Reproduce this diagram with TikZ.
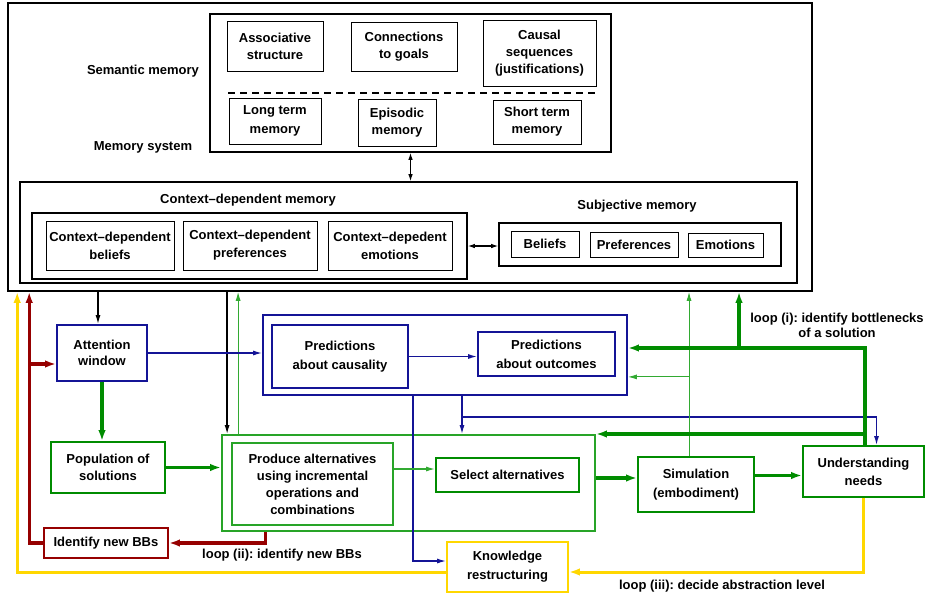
\documentclass[tikz,border=0pt]{standalone}
\usepackage{fontspec}
\setmainfont{Liberation Sans}
\usetikzlibrary{arrows.meta}
\definecolor{nblue}{RGB}{20,20,150}
\definecolor{ngreen}{RGB}{0,140,0}
\definecolor{lgreen}{RGB}{50,170,50}
\definecolor{dred}{RGB}{150,0,0}
\definecolor{yel}{RGB}{255,215,0}
\frenchspacing
\begin{document}
\begin{tikzpicture}[x=1pt,y=-1pt,
  font=\bfseries\fontsize{13}{17}\selectfont,
  box/.style={draw, line width=1pt, inner sep=0pt, align=center},
  big/.style={draw, line width=1.6pt, inner sep=0pt},
  bbox/.style={draw=nblue, line width=1.8pt, inner sep=0pt, align=center},
  gbox/.style={draw=ngreen, line width=1.8pt, inner sep=0pt, align=center},
  rbox/.style={draw=dred, line width=1.8pt, inner sep=0pt, align=center},
  ybox/.style={draw=yel, line width=1.8pt, inner sep=0pt, align=center},
  tip/.style={-{Latex[length=9pt,width=5pt]}},
  bigtip/.style={-{Latex[length=11pt,width=7.5pt]}},
  dbl/.style={{Latex[length=7pt,width=4.5pt]}-{Latex[length=7pt,width=4.5pt]}, line width=1.1pt},
  blk/.style={tip, line width=1.3pt},
  bl/.style={tip, draw=nblue, line width=1.3pt},
  gthin/.style={tip, draw=lgreen, line width=1pt},
  gthick/.style={bigtip, draw=ngreen, line width=3.5pt},
  gmed/.style={tip, draw=ngreen, line width=1.3pt},
  rthick/.style={bigtip, draw=dred, line width=3.2pt},
  ythick/.style={bigtip, draw=yel, line width=3pt},
  lab/.style={align=center}
]
\useasboundingbox (0,0) rectangle (925,600);

% ---------- memory system ----------
\node[big, minimum width=804pt, minimum height=288pt] (mem) at (410,147) {};
\node[big, minimum width=401pt, minimum height=138pt] (sem) at (410.5,83) {};
\node[box, minimum width=96pt, minimum height=50pt] (assoc) at (275,46) {Associative\\structure};
\node[box, minimum width=106pt, minimum height=49pt] (conn) at (404,46.5) {Connections\\to goals};
\node[box, minimum width=113pt, minimum height=66pt] (causal) at (539.5,53) {Causal\\sequences\\(justifications)};
\draw[dashed, dash pattern=on 7pt off 5pt, line width=1.2pt] (228,93) -- (595,93);
\node[box, minimum width=92pt, minimum height=46pt, font=\bfseries\fontsize{13}{19}\selectfont] (ltm) at (275,121) {Long term\\memory};
\node[box, minimum width=78pt, minimum height=47pt] (epi) at (397,122.5) {Episodic\\memory};
\node[box, minimum width=88pt, minimum height=44pt] (stm) at (537,122) {Short term\\memory};
\node[lab] (semlab) at (143,71) {Semantic memory};
\node[lab] (memlab) at (143,147) {Memory system};

\node[big, minimum width=777pt, minimum height=101pt] (ctx) at (408.5,232.5) {};
\node[lab] (ctxlab) at (248,200) {Context–dependent memory};
\node[lab] (subjlab) at (637,206) {Subjective memory};
\node[big, minimum width=435pt, minimum height=66pt] (cdin) at (249.5,246) {};
\node[box, minimum width=128pt, minimum height=49pt, font=\bfseries\fontsize{13}{18}\selectfont] (cdb) at (110,245.5) {Context–dependent\\beliefs};
\node[box, minimum width=134pt, minimum height=49pt, font=\bfseries\fontsize{13}{18}\selectfont] (cdp) at (250,245.5) {Context–dependent\\preferences};
\node[box, minimum width=124pt, minimum height=49pt, font=\bfseries\fontsize{13}{18}\selectfont] (cde) at (390,245.5) {Context–depedent\\emotions};
\node[big, minimum width=282pt, minimum height=43pt] (subjin) at (640,244.5) {};
\node[box, minimum width=68pt, minimum height=26pt] (bel) at (545,244) {Beliefs};
\node[box, minimum width=88pt, minimum height=25pt] (pref) at (634,244.5) {Preferences};
\node[box, minimum width=75pt, minimum height=24pt] (emo) at (725.5,245) {Emotions};

\draw[dbl] (sem.south) -- (sem.south |- ctx.north);
\draw[dbl] (cdin.east) -- (cdin.east -| subjin.west);

% ---------- process ----------
\node[bbox, minimum width=90pt, minimum height=56pt, font=\bfseries\fontsize{13}{16}\selectfont] (att) at (102,353) {Attention\\window};
\node[gbox, minimum width=114pt, minimum height=51pt] (pop) at (108,467.5) {Population of\\solutions};
\node[rbox, minimum width=124pt, minimum height=30pt] (nbb) at (106,543) {Identify new BBs};
\node[bbox, minimum width=364pt, minimum height=80pt] (pred) at (445,355) {};
\node[bbox, minimum width=136pt, minimum height=63pt, font=\bfseries\fontsize{13}{19}\selectfont] (pcaus) at (340,356.5) {Predictions\\about causality};
\node[bbox, minimum width=137pt, minimum height=44pt, font=\bfseries\fontsize{13}{19}\selectfont] (pout) at (546.5,354) {Predictions\\about outcomes};
\node[gbox, draw=lgreen!80!ngreen, minimum width=373pt, minimum height=96pt] (gbig) at (408.5,483) {};
\node[gbox, draw=lgreen!80!ngreen, minimum width=161pt, minimum height=82pt] (prod) at (312.5,484) {Produce alternatives\\using incremental\\operations and\\combinations};
\node[gbox, minimum width=143pt, minimum height=34pt] (sel) at (507.5,475) {Select alternatives};
\node[gbox, minimum width=116pt, minimum height=55pt, font=\bfseries\fontsize{13}{19}\selectfont] (sim) at (696,484.5) {Simulation\\(embodiment)};
\node[gbox, minimum width=121pt, minimum height=51pt, font=\bfseries\fontsize{13}{18}\selectfont] (und) at (863.5,471.5) {Understanding\\needs};
\node[ybox, minimum width=121pt, minimum height=50pt, font=\bfseries\fontsize{13}{19}\selectfont] (know) at (507.5,567) {Knowledge\\restructuring};

\node[lab, font=\bfseries\fontsize{13}{15}\selectfont] (l1) at (837,325) {loop (i): identify bottlenecks\\of a solution};
\node[lab] (l2) at (282,555) {loop (ii): identify new BBs};
\node[lab] (l3) at (722,586) {loop (iii): decide abstraction level};

\coordinate (j1) at (739,348);
\coordinate (gk) at (865,434);

% black
\draw[blk] ([xshift=-4pt]att.north |- mem.south) -- ([xshift=-4pt]att.north);
\draw[blk] ([xshift=6pt]gbig.north west |- mem.south) -- ([xshift=6pt]gbig.north west);
% light green up
\draw[gthin] ([xshift=17pt]gbig.north west) -- ([xshift=17pt]gbig.north west |- mem.south);
% dark red
\draw[rthick] (nbb.west) -| ([xshift=22pt]mem.south west);
\draw[rthick] ([xshift=-27pt,yshift=-11pt]att.west) -- ([yshift=-11pt]att.west);
\draw[rthick] ([xshift=44pt]gbig.south west) |- (nbb.east);
% yellow
\draw[ythick] ([yshift=-5pt]know.west) -| ([xshift=10pt]mem.south west);
\draw[ythick] (und.south) |- ([yshift=-5pt]know.east);
% blue
\draw[bl] (att.east) -- (att.east -| pred.west);
\draw[bl] (pcaus.east) -- (pcaus.east -| pout.west);
\draw[bl] ([xshift=-32pt]pred.south) |- ([yshift=6pt]know.west);
\draw[bl] ([xshift=17pt]pred.south) -- ([xshift=17pt]pred.south |- gbig.north);
\draw[bl] ([xshift=17pt,yshift=-21pt]pred.south) -| ([xshift=13pt]und.north);
% green
\draw[gthick] (att.south) -- (att.south |- pop.north);
\draw[gthick] (pop.east) -- (pop.east -| gbig.west);
\draw[gmed, draw=lgreen] ([yshift=6pt]sel.west -| prod.east) -- ([yshift=6pt]sel.west);
\draw[gthick] ([yshift=5pt]gbig.east) -- ([yshift=5pt]gbig.east -| sim.west);
\draw[gthick] ([yshift=-4pt]und.west -| sim.east) -- ([yshift=-4pt]und.west);
\draw[gthin] ([xshift=-7pt]sim.north) -- ([xshift=-7pt]sim.north |- mem.south);
\draw[gthin] ([xshift=-7pt]sim.north |- pout.south) -- (pout.south -| pred.east);
\draw[gthick] (gk |- und.north) |- (j1 -| pred.east);
\draw[gthick] (j1) -- (j1 |- mem.south);
\draw[gthick] (gk) -- (gk -| gbig.east);
\end{tikzpicture}
\end{document}
